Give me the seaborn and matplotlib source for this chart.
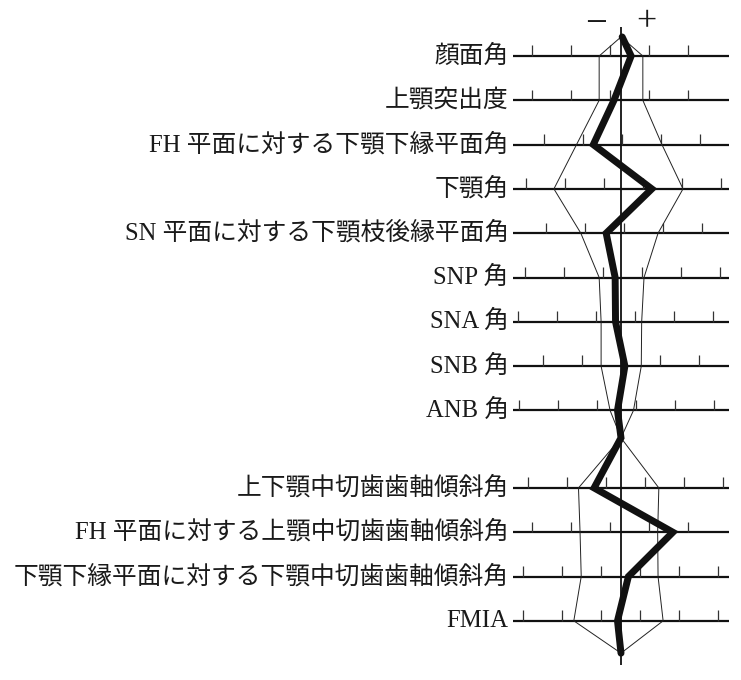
import seaborn as sns
import numpy as np
import pandas as pd
import matplotlib.pyplot as plt

# 計測項目（上から順に）
labels = ['顔面角', '上顎突出度', 'FH 平面に対する下顎下縁平面角', '下顎角',
          'SN 平面に対する下顎枝後縁平面角', 'SNP 角', 'SNA 角', 'SNB 角', 'ANB 角',
          '上下顎中切歯歯軸傾斜角', 'FH 平面に対する上顎中切歯歯軸傾斜角',
          '下顎下縁平面に対する下顎中切歯歯軸傾斜角', 'FMIA']

# 値は目盛り間隔を 1 とした標準値（中央線）からのずれ
norm_low = [-0.56, -0.56, -1.14, -1.72, -1.03, -0.56, -0.51, -0.51, -0.28,
            -1.09, -1.05, -1.02, -1.21]
norm_high = [0.56, 0.56, 1.05, 1.59, 0.95, 0.59, 0.53, 0.52, 0.32,
             0.97, 0.94, 0.95, 1.08]
patient = [0.26, -0.18, -0.71, 0.79, -0.38, -0.15, -0.14, 0.10, -0.09,
           -0.69, 1.33, 0.19, -0.09]
# 各項目の目盛りの位相（中央線からのずれ）
tick_phase = [-0.28, -0.28, 0.03, -0.44, 0.08, -0.47, 0.35, 0.0, 0.38,
              -0.39, -0.28, -0.52, -0.52]
patient_top = 0.03

# 行の位置：9 項目と 4 項目の 2 グループ
rows = np.r_[np.arange(9), 9.75 + np.arange(4)]
y_top, y_mid, y_bot = -0.43, 8.62, 13.48

sns.set_style('white')
plt.rcParams['font.family'] = ['Liberation Serif', 'Noto Sans CJK JP']

fig = plt.figure(figsize=(7.41, 6.8), dpi=100)
ax = fig.add_axes([0, 0, 1, 1])
ax.set_xlim(-621 / 39, (741 - 621) / 39)
ax.set_ylim((680 - 56) / 44.3, -56 / 44.3)
ax.axis('off')

# 各項目の水平線と目盛り
ax.hlines(rows, -2.77, 2.77, color='#111111', lw=1.6, zorder=1)
for r, ph in zip(rows, tick_phase):
    t = ph + np.arange(-4, 5)
    t = t[(t > -2.7) & (t < 2.65)]
    ax.vlines(t, r - 0.24, r, color='#333333', lw=0.9, zorder=1)

# 中央線
ax.vlines(0, -0.65, 13.75, color='#111111', lw=1.3, zorder=2)

# 標準偏差の範囲（細線）
ys = np.r_[y_top, rows[:9], y_mid, rows[9:], y_bot]
for side in (norm_low, norm_high):
    xs = np.r_[0, side[:9], 0, side[9:], 0]
    sns.lineplot(x=xs, y=ys, sort=False, estimator=None, color='#222222',
                 lw=0.7, ax=ax, zorder=3)

# 患者のプロフィログラム（太線）
xs = np.r_[patient_top, patient[:9], 0, patient[9:], 0]
sns.lineplot(x=xs, y=ys, sort=False, estimator=None, color='#111111',
             lw=5, ax=ax, zorder=4, solid_joinstyle='miter')

for r, lab in zip(rows, labels):
    ax.text(-2.88, r, lab, ha='right', va='center', fontsize=17.8, color='#1a1a1a')

ax.text(-0.64, -0.72, '\u2212', ha='center', va='center', fontsize=28, color='#1a1a1a')
ax.text(0.64, -0.74, '+', ha='center', va='center', fontsize=26, color='#1a1a1a')

fig.savefig('out.png', dpi=100)
